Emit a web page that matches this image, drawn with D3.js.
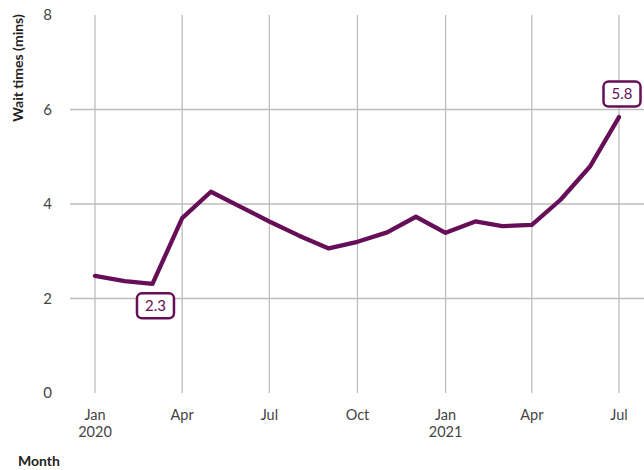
<!DOCTYPE html>
<meta charset="utf-8">
<style>
    body { margin: 0; background: #fff; }
    svg { display: block; font-family: Lato, "Open Sans", sans-serif; }
</style>

<script src="https://d3js.org/d3.v7.min.js"></script>

<svg id="chart" width="644" height="470"></svg>

<script>

// Data

var months = ['2020-01', '2020-02', '2020-03', '2020-04', '2020-05', '2020-06', '2020-07',
              '2020-08', '2020-09', '2020-10', '2020-11', '2020-12', '2021-01', '2021-02',
              '2021-03', '2021-04', '2021-05', '2021-06', '2021-07'];
var waitTimes = [2.48, 2.37, 2.31, 3.70, 4.26, 3.94, 3.63,
                 3.33, 3.06, 3.20, 3.40, 3.73, 3.39, 3.63,
                 3.53, 3.56, 4.09, 4.80, 5.84];
var yTicks = [0, 2, 4, 6, 8];
var callouts = [{ index: 2, label: '2.3', side: 'below' },
                { index: 18, label: '5.8', side: 'above' }];

// Setup

var svg = d3.select('svg#chart');
var purple = '#660e58';
var parseMonth = d3.timeParse('%Y-%m');

var data = months.map(function (m, i) { return { date: parseMonth(m), value: waitTimes[i] }; });

var x = d3.scaleTime()
    .domain([parseMonth('2020-01'), parseMonth('2021-07')])
    .range([95, 619]);

var y = d3.scaleLinear()
    .domain([0, 8])
    .range([393, 15]);

// Grid

var xTicks = d3.timeMonth.every(3).range(parseMonth('2020-01'), d3.timeMonth.offset(parseMonth('2021-07'), 1));

svg.append('g')
    .selectAll('line')
    .data(xTicks)
    .join('line')
    .attr('x1', function (d) { return x(d); })
    .attr('x2', function (d) { return x(d); })
    .attr('y1', y(8))
    .attr('y2', y(0))
    .attr('stroke', '#bdbdbd')
    .attr('stroke-width', 1.3);

svg.append('g')
    .selectAll('line')
    .data(yTicks.filter(function (d) { return d > 0 && d < 8; }))
    .join('line')
    .attr('x1', 70)
    .attr('x2', 644)
    .attr('y1', function (d) { return y(d); })
    .attr('y2', function (d) { return y(d); })
    .attr('stroke', '#bdbdbd')
    .attr('stroke-width', 1.3);

// Axis labels

svg.append('g')
    .selectAll('text')
    .data(yTicks)
    .join('text')
    .attr('x', 52)
    .attr('y', function (d) { return y(d); })
    .attr('dy', '0.35em')
    .attr('text-anchor', 'end')
    .attr('font-size', 15)
    .attr('fill', '#444')
    .text(function (d) { return d; });

var xLabels = svg.append('g')
    .selectAll('text')
    .data(xTicks)
    .join('text')
    .attr('x', function (d) { return x(d); })
    .attr('y', 420)
    .attr('text-anchor', 'middle')
    .attr('font-size', 14.5)
    .attr('fill', '#444');

xLabels.append('tspan')
    .attr('x', function (d) { return x(d); })
    .text(d3.timeFormat('%b'));

xLabels.filter(function (d) { return d.getMonth() === 0; })
    .append('tspan')
    .attr('x', function (d) { return x(d); })
    .attr('dy', 17)
    .text(d3.timeFormat('%Y'));

svg.append('text')
    .attr('x', 18)
    .attr('y', 466)
    .attr('font-size', 14)
    .attr('font-weight', 'bold')
    .attr('fill', '#222')
    .text('Month');

svg.append('text')
    .attr('transform', 'translate(23,68) rotate(-90)')
    .attr('text-anchor', 'middle')
    .attr('font-size', 14)
    .attr('font-weight', 'bold')
    .attr('fill', '#222')
    .text('Wait times (mins)');

// Line

var lineFn = d3.line()
    .x(function (d) { return x(d.date); })
    .y(function (d) { return y(d.value); });

svg.append('path')
    .datum(data)
    .attr('d', lineFn)
    .attr('fill', 'none')
    .attr('stroke', purple)
    .attr('stroke-width', 4.3)
    .attr('stroke-linejoin', 'round')
    .attr('stroke-linecap', 'round');

// Callouts

var boxW = 37, boxH = 25;

var callout = svg.append('g')
    .selectAll('g')
    .data(callouts)
    .join('g')
    .attr('transform', function (d) {
        var p = data[d.index];
        var cy = d.side === 'below' ? y(p.value) + 22 : y(p.value) - 23;
        return 'translate(' + (x(p.date) + 3) + ',' + cy + ')';
    });

callout.append('rect')
    .attr('x', -boxW / 2)
    .attr('y', -boxH / 2)
    .attr('width', boxW)
    .attr('height', boxH)
    .attr('rx', 5)
    .attr('fill', '#fff')
    .attr('stroke', purple)
    .attr('stroke-width', 2.5);

callout.append('text')
    .attr('text-anchor', 'middle')
    .attr('dy', '0.36em')
    .attr('font-size', 15)
    .attr('fill', purple)
    .text(function (d) { return d.label; });

</script>
